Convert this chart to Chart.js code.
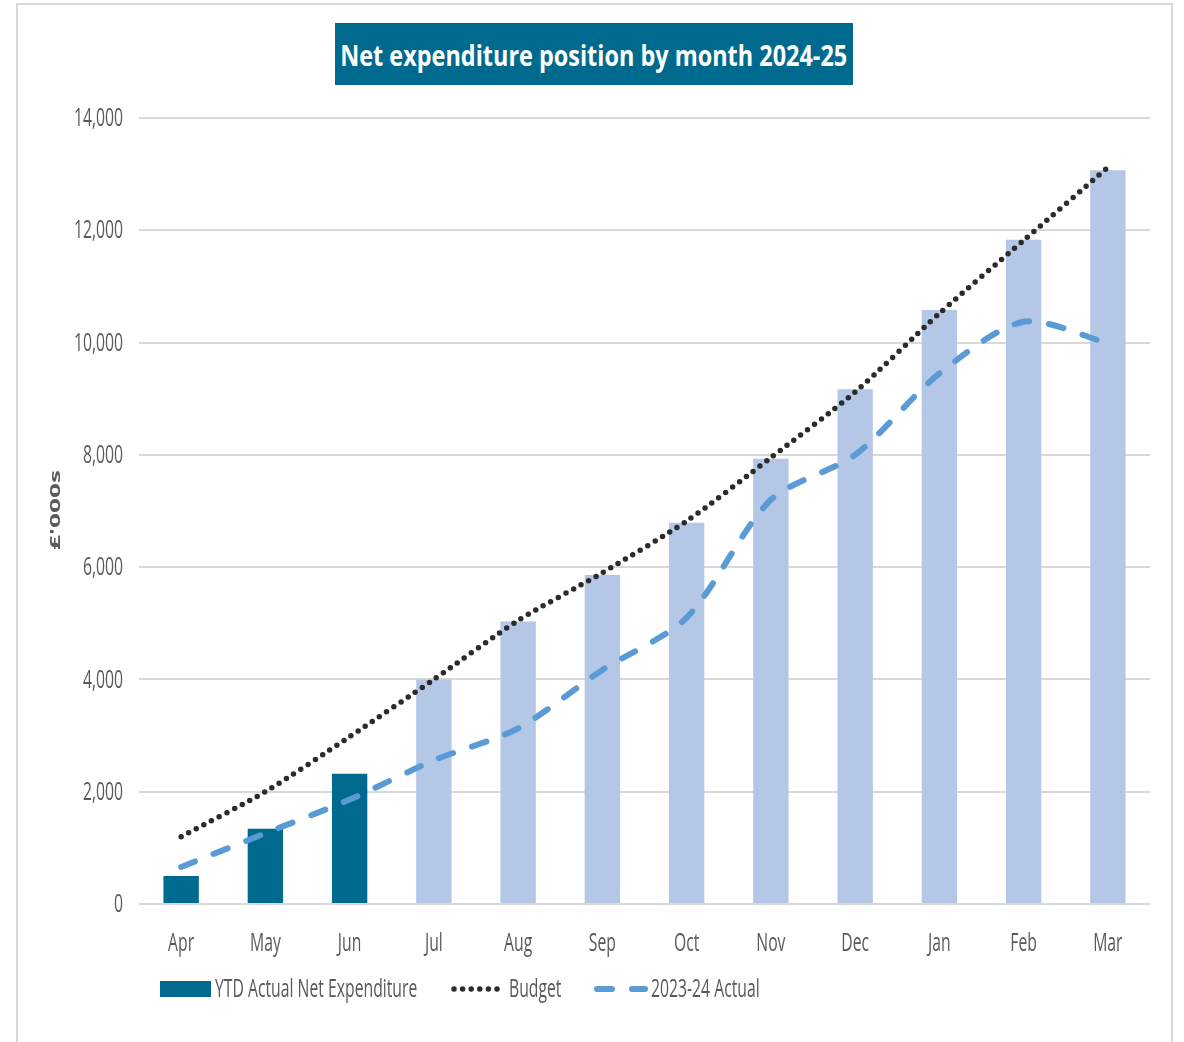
<!DOCTYPE html>
<html>
<head>
<meta charset="utf-8">
<script src="https://cdn.jsdelivr.net/npm/chart.js@4"></script>
<style>
  html, body { margin: 0; padding: 0; background: #fff; }
  #wrap { position: relative; width: 1184px; height: 1042px; overflow: hidden; }
  #frame { position: absolute; left: 16px; top: 3px; width: 1157px; height: 1060px; border: 2px solid #d9d9d9; box-sizing: border-box; }
  #title { position: absolute; left: 335px; top: 23px; width: 518px; height: 62px; background: #006a8e;
           display: flex; align-items: center; justify-content: center; overflow: hidden; }
  #title span { display: inline-block; color: #fff; font: 700 29px 'Open Sans', 'Noto Sans', sans-serif;
                white-space: nowrap; transform-origin: 50% 50%; }
  canvas { position: absolute; left: 0; top: 0; }
</style>
</head>
<body>
<div id="wrap">
  <div id="frame"></div>
  <canvas id="c" width="1184" height="1042"></canvas>
  <div id="title"><span id="tt">Net expenditure position by month 2024-25</span></div>
</div>
<script>
const months = ['Apr','May','Jun','Jul','Aug','Sep','Oct','Nov','Dec','Jan','Feb','Mar'];
const ytdActual = [500, 1340, 2320, 4000, 5030, 5860, 6790, 7930, 9170, 10580, 11830, 13070];
const actualMonths = 3; // Apr-Jun are actuals, rest forecast
const budget = [1200, 2000, 2980, 4000, 5050, 5900, 6820, 7950, 9120, 10520, 11820, 13120];
const prior = [660, 1260, 1860, 2560, 3130, 4170, 5100, 7200, 8000, 9450, 10370, 9990];
const yTicks = [0, 2000, 4000, 6000, 8000, 10000, 12000, 14000];
const yTitle = "£'000s";

const FONT = "'Open Sans', 'Noto Sans', sans-serif";
const TXT = '#595959';
const DARK = '#006a8e';
const LIGHT = '#b4c7e7';
const SX = 0.63;          // horizontal squeeze of the narrow chart font
const TFONT = '25px ' + FONT;

// squeeze the title text to the width of the reference
(function () {
  const s = document.getElementById('tt');
  const w = s.getBoundingClientRect().width;
  s.style.transform = 'scaleX(' + (507 / w) + ')';
})();

function sqText(ctx, text, x, y, align) {
  ctx.save();
  ctx.translate(x, y);
  ctx.scale(SX, 1);
  ctx.textAlign = align || 'left';
  ctx.fillText(text, 0, 0);
  ctx.restore();
  return ctx.measureText(text).width * SX;
}

const textPlugin = {
  id: 'narrowText',
  afterDraw(chart) {
    const ctx = chart.ctx;
    const xs = chart.scales.x, ys = chart.scales.y;
    ctx.save();
    ctx.font = TFONT;
    ctx.fillStyle = TXT;
    // y tick labels
    ctx.textBaseline = 'middle';
    yTicks.forEach(v => {
      sqText(ctx, v.toLocaleString('en-GB'), chart.chartArea.left - 16, ys.getPixelForValue(v) + 1, 'right');
    });
    // x tick labels
    ctx.textBaseline = 'alphabetic';
    months.forEach((m, i) => {
      sqText(ctx, m, xs.getPixelForValue(i), 951, 'center');
    });
    // y axis title
    ctx.save();
    ctx.font = '700 14px ' + FONT;
    ctx.translate(60, 510);
    ctx.rotate(-Math.PI / 2);
    const w = ctx.measureText(yTitle).width;
    ctx.scale(80 / w, 1);
    ctx.textAlign = 'center';
    ctx.textBaseline = 'alphabetic';
    ctx.fillText(yTitle, 0, 0);
    ctx.restore();

    // legend
    const y = 989;
    ctx.textBaseline = 'middle';
    const ds = chart.data.datasets;
    ctx.fillStyle = DARK;
    ctx.fillRect(160, y - 8, 51, 16);
    ctx.fillStyle = TXT;
    sqText(ctx, ds[0].label, 215, y + 1);
    ctx.strokeStyle = ds[1].borderColor; ctx.lineWidth = ds[1].borderWidth; ctx.lineCap = 'round';
    ctx.setLineDash(ds[1].borderDash);
    ctx.beginPath(); ctx.moveTo(454, y); ctx.lineTo(503, y); ctx.stroke();
    sqText(ctx, ds[1].label, 509, y + 1);
    ctx.strokeStyle = ds[2].borderColor; ctx.lineWidth = ds[2].borderWidth;
    ctx.setLineDash(ds[2].borderDash);
    ctx.beginPath(); ctx.moveTo(597, y); ctx.lineTo(645, y); ctx.stroke();
    ctx.setLineDash([]);
    sqText(ctx, ds[2].label, 651, y + 1);
    ctx.restore();
  }
};

new Chart(document.getElementById('c'), {
  data: {
    labels: months,
    datasets: [
      {
        type: 'bar', label: 'YTD Actual Net Expenditure', data: ytdActual,
        backgroundColor: ytdActual.map((v, i) => i < actualMonths ? DARK : LIGHT),
        barPercentage: 0.42, categoryPercentage: 1, order: 3
      },
      {
        type: 'line', label: 'Budget', data: budget,
        borderColor: '#2b2b2b', borderWidth: 5.5, borderDash: [0, 8.6], borderCapStyle: 'round',
        pointRadius: 0, tension: 0.25, fill: false, order: 1
      },
      {
        type: 'line', label: '2023-24 Actual', data: prior,
        borderColor: '#5b9bd5', borderWidth: 6, borderDash: [15, 20], borderCapStyle: 'round',
        pointRadius: 0, tension: 0.28, fill: false, order: 2
      }
    ]
  },
  options: {
    responsive: false, animation: false, devicePixelRatio: 1,
    layout: { padding: { top: 118, right: 34, left: 38, bottom: 0 } },
    plugins: { legend: { display: false }, title: { display: false }, tooltip: { enabled: false } },
    scales: {
      x: {
        grid: { display: false },
        border: { display: false },
        ticks: { display: false },
        afterFit(s) { s.height = 138; }
      },
      y: {
        min: 0, max: 14000,
        afterBuildTicks(s) { s.ticks = yTicks.map(v => ({ value: v })); },
        grid: { color: '#d9d9d9', lineWidth: 2, drawTicks: false },
        border: { display: false },
        ticks: { display: false },
        afterFit(s) { s.width = 101; }
      }
    }
  },
  plugins: [textPlugin]
});
</script>
</body>
</html>
